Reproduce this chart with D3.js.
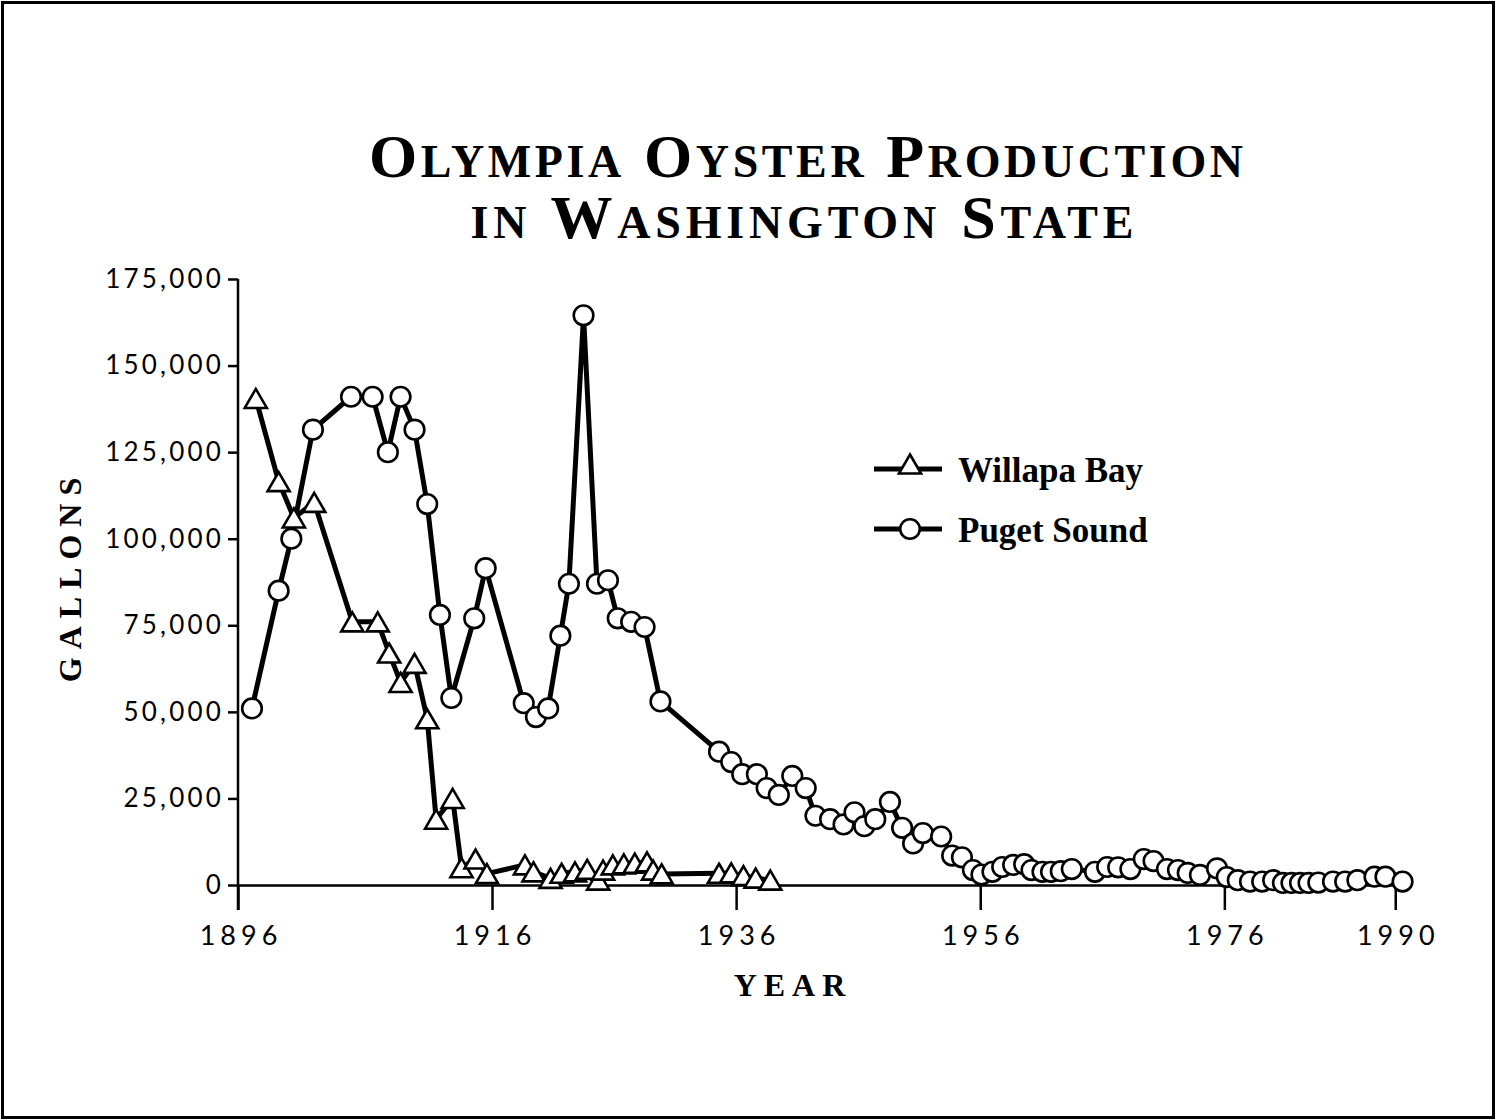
<!DOCTYPE html>
<html>
<head>
<meta charset="utf-8">
<script src="https://cdn.jsdelivr.net/npm/d3@7"></script>
<style>
  html, body { margin: 0; padding: 0; background: #fff; }
  svg { display: block; }
</style>
</head>
<body>
<svg id="chart" width="1497" height="1120"></svg>
<script>
// ---------------- DATA ----------------
const titleLines = ["Olympia Oyster Production", "in Washington State"];
const xAxisTitle = "YEAR";
const yAxisTitle = "GALLONS";
const seriesNames = ["Willapa Bay", "Puget Sound"];

const xTickValues = [1896, 1916, 1936, 1956, 1976, 1990];
const xTickLabels = ["1896", "1916", "1936", "1956", "1976", "1990"];
const yTickValues = [0, 25000, 50000, 75000, 100000, 125000, 150000, 175000];

// Puget Sound (positions on the year axis)
const pugetYears = [1897.1, 1899.2, 1900.2, 1901.9, 1904.9, 1906.6, 1907.8, 1908.8, 1909.9, 1910.9,
  1911.9, 1912.8, 1914.6, 1915.5, 1918.6, 1919.6, 1920.6, 1921.6, 1922.3, 1923.5,
  1924.6, 1925.5, 1926.3, 1927.4, 1928.5, 1929.8, 1934.6, 1935.6, 1936.5, 1937.7,
  1938.5, 1939.5, 1940.6, 1941.7, 1942.5, 1943.7, 1944.8, 1945.7, 1946.5, 1947.4,
  1948.6, 1949.6, 1950.5, 1951.3, 1952.8, 1953.7, 1954.5, 1955.4, 1956.1, 1957.0,
  1957.8, 1958.7, 1959.6, 1960.2, 1961.1, 1961.8, 1962.6, 1963.5, 1965.4, 1966.4,
  1967.3, 1968.3, 1969.4, 1970.2, 1971.3, 1972.2, 1973.0, 1974.0, 1975.4, 1976.2,
  1977.1, 1978.1, 1979.1, 1980.0, 1980.8, 1981.5, 1982.2, 1982.9, 1983.7, 1984.9,
  1985.9, 1986.9, 1988.3, 1989.2, 1990.6];
const pugetGallons = [51000, 85000, 100000, 131500, 141000, 141000, 125000, 141000, 131500, 110000,
  78000, 54000, 77000, 91500, 52500, 48500, 51000, 72000, 87000, 164500,
  87000, 88000, 77000, 76000, 74500, 53000, 38500, 35500, 32000, 32000,
  28000, 26000, 31500, 28000, 20000, 19000, 17500, 21000, 17000, 19000,
  24000, 16500, 12000, 15000, 14000, 8500, 8000, 4300, 3000, 3800,
  5200, 5800, 6000, 4300, 3800, 3800, 4000, 4600, 3800, 5200,
  5100, 4600, 7500, 6900, 4600, 4300, 3500, 2900, 4800, 2300,
  1400, 1000, 1000, 1400, 600, 600, 600, 600, 700, 1000,
  1000, 1400, 2400, 2400, 1000];

// Willapa Bay
const willapaYears = [1897.4, 1899.2, 1900.4, 1902.0, 1905.0, 1907.0, 1907.9, 1908.8, 1909.9, 1910.9,
  1911.6, 1912.9, 1913.6, 1914.7, 1915.6, 1918.7, 1919.4, 1920.8, 1921.7, 1922.8,
  1923.8, 1924.7, 1925.1, 1925.9, 1926.8, 1927.7, 1928.7, 1929.2, 1929.9, 1934.6,
  1935.6, 1936.6, 1937.6, 1938.8];
const willapaGallons = [140500, 116500, 106000, 110500, 76000, 76000, 67000, 58500, 64000, 48000,
  19000, 25000, 5000, 7500, 3300, 5800, 3800, 1900, 3400, 3800,
  4500, 1400, 4300, 5800, 6100, 6300, 6700, 4300, 3200, 3400,
  3500, 2700, 2000, 1400];

// ---------------- LAYOUT ----------------
const svg = d3.select("#chart");
const SERIF = "'Liberation Serif', 'DejaVu Serif', serif";
const SANS = "Lato, 'DejaVu Sans', sans-serif";

// frame
svg.append("rect").attr("x", 2.5).attr("y", 2.5).attr("width", 1491).attr("height", 1115)
  .attr("fill", "#fff").attr("stroke", "#000").attr("stroke-width", 3);

const x = d3.scaleLinear().domain([1896, 1916, 1990.8]).range([238, 492, 1405]);
const y = d3.scaleLinear().domain([0, 175000]).range([885, 279]);

// ----- title (small caps built from case) -----
const titleG = svg.append("g");
const bigSize = 62, smallSize = 46;
const titleWidths = [874, 663];
const titleCenters = [806, 802];
titleLines.forEach((line, li) => {
  const t = titleG.append("text")
    .attr("x", titleCenters[li]).attr("y", 177 + li * 61)
    .attr("text-anchor", "start")
    .attr("font-family", SERIF).attr("font-weight", "bold")
    .attr("fill", "#000");
  const runs = [];
  for (const ch of line) {
    const small = ch !== ch.toUpperCase();
    const size = small ? smallSize : bigSize;
    if (runs.length && runs[runs.length - 1].size === size) runs[runs.length - 1].text += ch.toUpperCase();
    else runs.push({ size, text: ch.toUpperCase() });
  }
  runs.forEach(r => t.append("tspan").attr("font-size", r.size).text(r.text));
  const natural = t.node().getComputedTextLength();
  const n = line.length;
  const ls = (titleWidths[li] - natural) / (n - 1);
  t.attr("letter-spacing", ls);
  t.attr("x", titleCenters[li] - titleWidths[li] / 2);
});

// ----- axes -----
const yAxis = d3.axisLeft(y).tickValues(yTickValues).tickSize(10).tickSizeOuter(0).tickPadding(4)
  .tickFormat(d3.format(","));
const gy = svg.append("g").attr("transform", "translate(238,0)").call(yAxis);
gy.select(".domain").remove();
gy.selectAll(".tick line").attr("stroke", "#000").attr("stroke-width", 2.5);
gy.selectAll(".tick text").attr("font-family", SANS).attr("font-size", 26)
  .attr("letter-spacing", 3.2).attr("fill", "#000");

const xAxis = d3.axisBottom(x).tickValues(xTickValues).tickSize(25).tickSizeOuter(0).tickPadding(16)
  .tickFormat((d, i) => xTickLabels[i]);
const gx = svg.append("g").attr("transform", "translate(0,885)").call(xAxis);
gx.select(".domain").attr("stroke", "#000").attr("stroke-width", 2.5);
gx.selectAll(".tick line").attr("stroke", "#000").attr("stroke-width", 2.5);
gx.selectAll(".tick text").attr("font-family", SANS).attr("font-size", 27)
  .attr("letter-spacing", 5).attr("fill", "#000").attr("dx", 2.5);

// y axis line (extends below zero to tick length)
svg.append("line").attr("x1", x(1896)).attr("x2", x(1896))
  .attr("y1", y(175000)).attr("y2", y(0) + 25)
  .attr("stroke", "#000").attr("stroke-width", 2.5);

// axis titles
svg.append("text").attr("x", 791 + 2).attr("y", 996).attr("text-anchor", "middle")
  .attr("font-family", SERIF).attr("font-weight", "bold").attr("font-size", 32)
  .attr("letter-spacing", 7).text(xAxisTitle);
svg.append("text").attr("transform", "translate(81,576) rotate(-90)")
  .attr("text-anchor", "middle")
  .attr("font-family", SERIF).attr("font-weight", "bold").attr("font-size", 32)
  .attr("letter-spacing", 8).text(yAxisTitle);

// ----- series -----
const triangle = {
  draw(ctx, size) {
    const w = Math.sqrt(size * 2 / 0.86);
    const h = w * 0.86;
    ctx.moveTo(0, -h / 2);
    ctx.lineTo(w / 2, h / 2);
    ctx.lineTo(-w / 2, h / 2);
    ctx.closePath();
  }
};
const line = d3.line().x(d => x(d[0])).y(d => y(d[1]));

const puget = pugetYears.map((yr, i) => [yr, pugetGallons[i]]);
const willapa = willapaYears.map((yr, i) => [yr, willapaGallons[i]]);

function drawSeries(data, kind) {
  const g = svg.append("g");
  g.append("path").attr("d", line(data)).attr("fill", "none")
    .attr("stroke", "#000").attr("stroke-width", 5).attr("stroke-linejoin", "round");
  if (kind === "circle") {
    g.selectAll("circle").data(data).join("circle")
      .attr("cx", d => x(d[0])).attr("cy", d => y(d[1])).attr("r", 9.8)
      .attr("fill", "#fff").attr("stroke", "#000").attr("stroke-width", 2.6);
  } else {
    const sym = d3.symbol().type(triangle).size(210);
    g.selectAll("path.m").data(data).join("path").attr("class", "m")
      .attr("d", sym)
      .attr("transform", d => `translate(${x(d[0])},${y(d[1])})`)
      .attr("fill", "#fff").attr("stroke", "#000").attr("stroke-width", 2.6)
      .attr("stroke-linejoin", "miter");
  }
}
drawSeries(puget, "circle");
drawSeries(willapa, "triangle");

// ----- legend -----
const legend = svg.append("g");
const legendRows = [
  { name: seriesNames[0], kind: "triangle", y: 469 },
  { name: seriesNames[1], kind: "circle", y: 529 }
];
legendRows.forEach(r => {
  legend.append("line").attr("x1", 874).attr("x2", 942).attr("y1", r.y).attr("y2", r.y)
    .attr("stroke", "#000").attr("stroke-width", 5);
  if (r.kind === "circle") {
    legend.append("circle").attr("cx", 910).attr("cy", r.y).attr("r", 9.8)
      .attr("fill", "#fff").attr("stroke", "#000").attr("stroke-width", 2.6);
  } else {
    legend.append("path").attr("d", d3.symbol().type(triangle).size(210)())
      .attr("transform", `translate(910,${r.y - 5})`)
      .attr("fill", "#fff").attr("stroke", "#000").attr("stroke-width", 2.6);
  }
  legend.append("text").attr("x", 958).attr("y", r.y + 13)
    .attr("font-family", SERIF).attr("font-weight", "bold").attr("font-size", 35)
    .text(r.name);
});
</script>
</body>
</html>
